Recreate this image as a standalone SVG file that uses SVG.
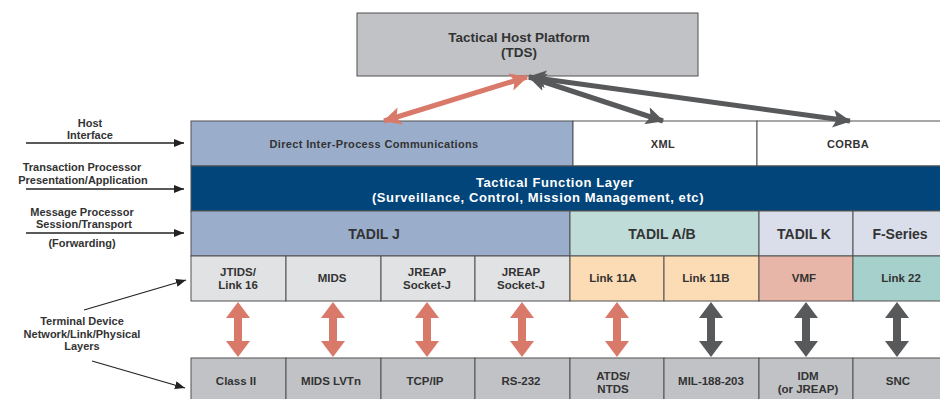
<svg xmlns="http://www.w3.org/2000/svg" width="940" height="399" viewBox="0 0 940 399">
<defs>
<style>
text{font-family:"Liberation Sans",Arial,sans-serif;font-weight:bold;fill:#333;text-anchor:middle}
.cell{stroke:#505050;stroke-width:1}
.t10{font-size:11px;letter-spacing:0.35px}
.t11{font-size:11.5px}
.t12{font-size:13.5px}
.tf{font-size:13px;letter-spacing:0.6px}
.t13{font-size:14px}
.lbl{font-size:11px}
.w{fill:#fff}
.sal{fill:#d9796a}
.drk{fill:#58595b}
</style>
<marker id="ahS" viewBox="0 0 18 18" refX="17" refY="9" markerWidth="18" markerHeight="18" markerUnits="userSpaceOnUse" orient="auto-start-reverse"><path d="M0,0 L18,9 L0,18 L4,9 Z" fill="#d9796a"/></marker>
<marker id="ahD" viewBox="0 0 18 18" refX="17" refY="9" markerWidth="18" markerHeight="18" markerUnits="userSpaceOnUse" orient="auto-start-reverse"><path d="M0,0 L18,9 L0,18 L4,9 Z" fill="#58595b"/></marker>
<marker id="ahK" viewBox="0 0 10 8" refX="10" refY="4" markerWidth="10" markerHeight="8" markerUnits="userSpaceOnUse" orient="auto"><path d="M0,0 L10,4 L0,8 Z" fill="#222"/></marker>
<path id="va" d="M0,302 L12,318 L4,318 L4,341 L12,341 L0,357 L-12,341 L-4,341 L-4,318 L-12,318 Z"/>
</defs>
<rect width="940" height="399" fill="#fff"/>

<g id="tds">
<rect class="cell" x="357" y="13" width="341" height="63" fill="#c1c2c6"/>
<text class="t12" x="519" y="41.5">Tactical Host Platform</text>
<text class="t12" x="519" y="57">(TDS)</text>
</g>

<g id="dipc"><rect class="cell" x="191" y="121" width="382" height="45" fill="#9aaecb"/><text class="t10" x="374" y="148">Direct Inter-Process Communications</text></g>
<g id="xml"><rect class="cell" x="573" y="121" width="184" height="45" fill="#fff"/><text class="t10" x="663" y="148">XML</text></g>
<g id="corba"><rect class="cell" x="757" y="121" width="184" height="45" fill="#fff"/><text class="t10" x="848" y="148">CORBA</text></g>

<g id="tfl"><rect class="cell" x="191" y="166" width="750" height="45" fill="#02457b"/>
<text class="tf w" x="555" y="186.5">Tactical Function Layer</text>
<text class="tf w" x="538" y="201.5">(Surveillance, Control, Mission Management, etc)</text></g>

<g id="tadilj"><rect class="cell" x="191" y="211" width="379" height="45" fill="#9aaecb"/><text class="t13" x="374" y="239">TADIL J</text></g>
<g id="tadilab"><rect class="cell" x="570" y="211" width="189" height="45" fill="#bfdcd9"/><text class="t13" x="662" y="239">TADIL A/B</text></g>
<g id="tadilk"><rect class="cell" x="759" y="211" width="94" height="45" fill="#dadeeb"/><text class="t13" x="804" y="239">TADIL K</text></g>
<g id="fseries"><rect class="cell" x="853" y="211" width="88" height="45" fill="#dadeeb"/><text class="t13" x="900" y="239">F-Series</text></g>

<g id="jtids"><rect class="cell" x="191" y="256" width="95" height="45" fill="#e1e2e4"/><text class="t11" x="238" y="276">JTIDS/</text><text class="t11" x="238" y="289">Link 16</text></g>
<g id="mids"><rect class="cell" x="286" y="256" width="95" height="45" fill="#e1e2e4"/><text class="t11" x="332" y="282">MIDS</text></g>
<g id="jreap1"><rect class="cell" x="381" y="256" width="94" height="45" fill="#e1e2e4"/><text class="t11" x="427" y="276">JREAP</text><text class="t11" x="427" y="289">Socket-J</text></g>
<g id="jreap2"><rect class="cell" x="475" y="256" width="95" height="45" fill="#e1e2e4"/><text class="t11" x="521" y="276">JREAP</text><text class="t11" x="521" y="289">Socket-J</text></g>
<g id="link11a"><rect class="cell" x="570" y="256" width="94" height="45" fill="#fbdcb5"/><text class="t11" x="613" y="282">Link 11A</text></g>
<g id="link11b"><rect class="cell" x="664" y="256" width="95" height="45" fill="#fbdcb5"/><text class="t11" x="706" y="282">Link 11B</text></g>
<g id="vmf"><rect class="cell" x="759" y="256" width="94" height="45" fill="#e8b6a8"/><text class="t11" x="804" y="282">VMF</text></g>
<g id="link22"><rect class="cell" x="853" y="256" width="88" height="45" fill="#a5d0cc"/><text class="t11" x="901" y="282">Link 22</text></g>

<g id="class2"><rect class="cell" x="191" y="358" width="95" height="42" fill="#c1c2c6"/><text class="t11" x="236" y="385">Class II</text></g>
<g id="midslvtn"><rect class="cell" x="286" y="358" width="95" height="42" fill="#c1c2c6"/><text class="t11" x="331" y="385">MIDS LVTn</text></g>
<g id="tcpip"><rect class="cell" x="381" y="358" width="94" height="42" fill="#c1c2c6"/><text class="t11" x="425" y="385">TCP/IP</text></g>
<g id="rs232"><rect class="cell" x="475" y="358" width="95" height="42" fill="#c1c2c6"/><text class="t11" x="521" y="385">RS-232</text></g>
<g id="atds"><rect class="cell" x="570" y="358" width="94" height="42" fill="#c1c2c6"/><text class="t11" x="613" y="379.5">ATDS/</text><text class="t11" x="613" y="392.5">NTDS</text></g>
<g id="mil188"><rect class="cell" x="664" y="358" width="95" height="42" fill="#c1c2c6"/><text class="t11" x="711" y="385">MIL-188-203</text></g>
<g id="idm"><rect class="cell" x="759" y="358" width="94" height="42" fill="#c1c2c6"/><text class="t11" x="808" y="379.5">IDM</text><text class="t11" x="808" y="392.5">(or JREAP)</text></g>
<g id="snc"><rect class="cell" x="853" y="358" width="88" height="42" fill="#c1c2c6"/><text class="t11" x="898" y="385">SNC</text></g>

<g id="labels">
<text class="lbl" x="90" y="126.5">Host</text>
<text class="lbl" x="90" y="139">Interface</text>
<text class="lbl" x="82" y="171">Transaction Processor</text>
<text class="lbl" x="83" y="183.5">Presentation/Application</text>
<text class="lbl" x="82" y="215.5">Message Processor</text>
<text class="lbl" x="84" y="228">Session/Transport</text>
<text class="lbl" x="82" y="247">(Forwarding)</text>
<text class="lbl" x="82" y="325">Terminal Device</text>
<text class="lbl" x="82" y="337.5">Network/Link/Physical</text>
<text class="lbl" x="82" y="350">Layers</text>
</g>

<g id="connectors">
<line x1="26" y1="143" x2="184" y2="143" stroke="#222" stroke-width="1.5" marker-end="url(#ahK)"/>
<line x1="26" y1="189" x2="184" y2="189" stroke="#222" stroke-width="1.5" marker-end="url(#ahK)"/>
<line x1="26" y1="233" x2="184" y2="233" stroke="#222" stroke-width="1.5" marker-end="url(#ahK)"/>
<line x1="84" y1="310" x2="186" y2="280" stroke="#222" stroke-width="1.3" marker-end="url(#ahK)"/>
<line x1="92" y1="361" x2="185" y2="388" stroke="#222" stroke-width="1.3" marker-end="url(#ahK)"/>
<line x1="384" y1="121" x2="527" y2="77" stroke="#d9796a" stroke-width="5" marker-start="url(#ahS)" marker-end="url(#ahS)"/>
<line x1="529" y1="77" x2="663" y2="121" stroke="#58595b" stroke-width="5" marker-start="url(#ahD)" marker-end="url(#ahD)"/>
<line x1="529" y1="77" x2="850" y2="121" stroke="#58595b" stroke-width="5" marker-start="url(#ahD)" marker-end="url(#ahD)"/>
<use href="#va" x="238" class="sal"/>
<use href="#va" x="333" class="sal"/>
<use href="#va" x="427" class="sal"/>
<use href="#va" x="522" class="sal"/>
<use href="#va" x="617" class="sal"/>
<use href="#va" x="711" class="drk"/>
<use href="#va" x="806" class="drk"/>
<use href="#va" x="897" class="drk"/>
</g>
</svg>
